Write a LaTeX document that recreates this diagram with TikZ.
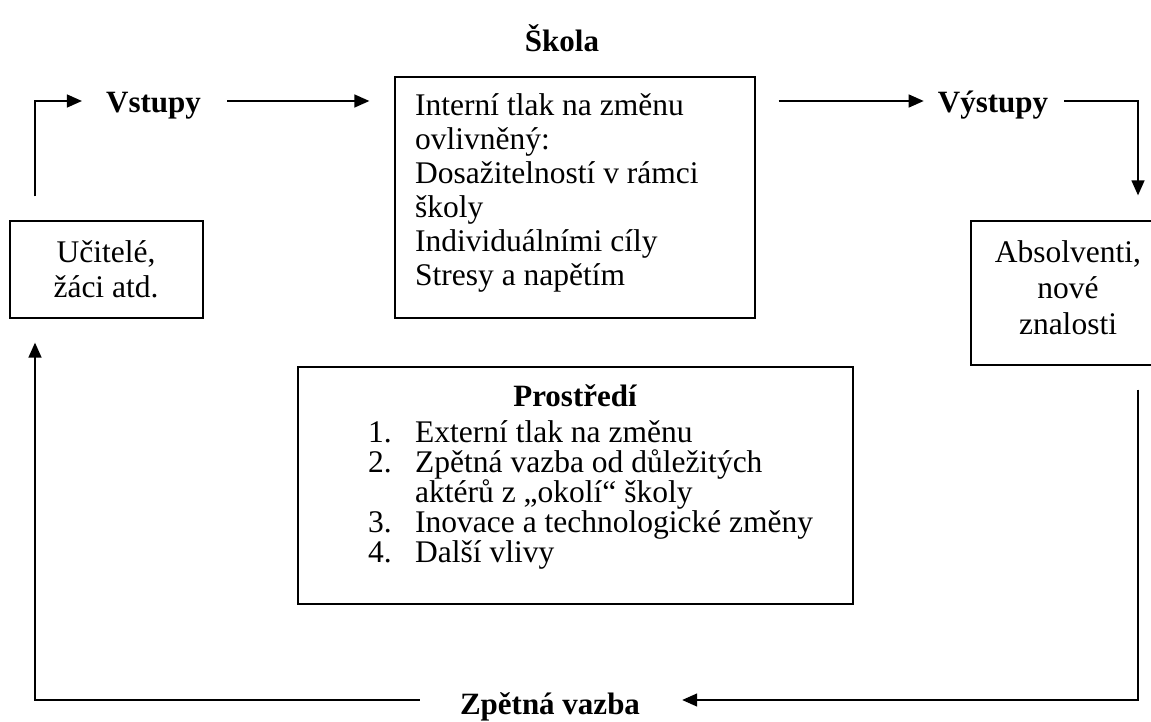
\documentclass[tikz,border=0pt]{standalone}
\usepackage{fontspec}
\setmainfont{Liberation Serif}
\usetikzlibrary{arrows.meta}
\begin{document}
\begin{tikzpicture}[x=1pt,y=-1pt,
  txt/.style={font=\fontsize{31.5}{35}\selectfont, inner sep=0pt, anchor=base},
  lbl/.style={font=\fontsize{31}{35}\selectfont\bfseries, inner sep=0pt, anchor=base},
  frame/.style={draw, line width=1.3pt, inner sep=0pt},
  conn/.style={line width=1.4pt},
  arr/.style={conn, -{Triangle[length=15pt,width=13pt]}}
]
\useasboundingbox[fill=white] (0,0) rectangle (1151,722);

% lanes
\coordinate (toprow) at (0,101);
\coordinate (botrow) at (0,700);
\coordinate (leftx) at (35,0);
\coordinate (rightx) at (1138,0);

% boxes
\node[frame, minimum width=193pt, minimum height=97pt] (teach) at (106.5,269.5) {};
\node[frame, minimum width=360pt, minimum height=241pt] (inner) at (575,197.5) {};
\node[frame, minimum width=196pt, minimum height=144pt] (out) at (1069,293) {};
\node[frame, minimum width=555pt, minimum height=237pt] (env) at (575.5,485.5) {};

% box texts
\node[txt] (teachtxt) at (106,262) {\parbox[t]{180pt}{\centering\fontsize{31.5}{35}\selectfont Učitelé,\\žáci atd.}};
\node[txt, anchor=base west] (innertxt) at (415,116) {\parbox[t]{330pt}{\raggedright\fontsize{31.5}{34}\selectfont Interní tlak na změnu\\ovlivněný:\\Dosažitelností v~rámci\\školy\\Individuálními cíly\\Stresy a~napětím}};
\node[txt] (outtxt) at (1068,262) {\parbox[t]{190pt}{\centering\fontsize{31.5}{36}\selectfont Absolventi,\\nové\\znalosti}};
\node[lbl] (envtitle) at (575,406) {Prostředí};
\node[txt, anchor=base west] (envlist) at (368,442) {\parbox[t]{480pt}{\raggedright\fontsize{31.5}{30}\selectfont
\makebox[47pt][l]{1.}Externí tlak na změnu\\
\makebox[47pt][l]{2.}Zpětná vazba od důležitých\\
\hspace*{47pt}aktérů z „okolí“ školy\\
\makebox[47pt][l]{3.}Inovace a technologické změny\\
\makebox[47pt][l]{4.}Další vlivy}};

% labels
\node[lbl] (skola) at (562,52) {Škola};
\node[lbl] (vst) at (153.5,113) {Vstupy};
\node[lbl] (vyst) at (993,113) {Výstupy};
\node[lbl] (zv) at (550,714) {Zpětná vazba};

% helper points
\path ([yshift=24pt]teach.north) coordinate (teachN);
\path ([yshift=-24pt]teach.south) coordinate (teachS);
\path ([xshift=-24pt]vst.west) coordinate (vstW);
\path ([xshift=26pt]vst.east) coordinate (vstE);
\path ([xshift=-25pt]inner.west) coordinate (innW);
\path ([xshift=23pt]inner.east) coordinate (innE);
\path ([xshift=-14pt]vyst.west) coordinate (vyW);
\path ([xshift=16pt]vyst.east) coordinate (vyE);
\path ([yshift=25pt]out.north) coordinate (outN);
\path ([yshift=-24pt]out.south) coordinate (outS);
\path ([xshift=42pt]zv.east) coordinate (zvE);
\path ([xshift=-40pt]zv.west) coordinate (zvW);

% connectors
\draw[arr] (leftx |- teachN) |- (vstW |- toprow);
\draw[arr] (vstE |- toprow) -- (innW |- toprow);
\draw[arr] (innE |- toprow) -- (vyW |- toprow);
\draw[arr] (vyE |- toprow) -| (rightx |- outN);
\draw[arr] (rightx |- outS) |- (zvE |- botrow);
\draw[arr] (zvW |- botrow) -| (leftx |- teachS);
\end{tikzpicture}
\end{document}
